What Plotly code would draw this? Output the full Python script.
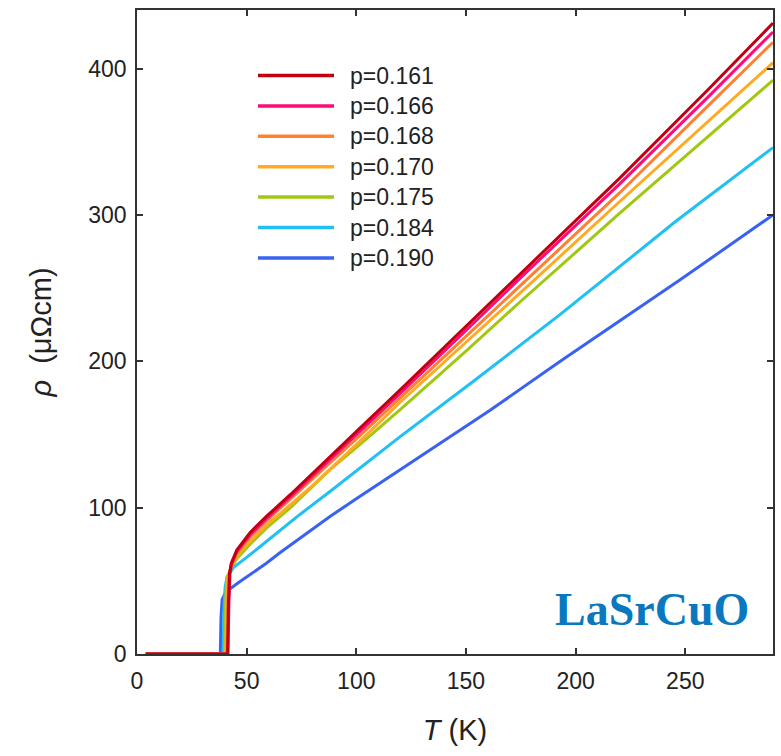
import plotly.graph_objects as go

# ---- data ----
labels = ["p=0.161", "p=0.166", "p=0.168", "p=0.170", "p=0.175", "p=0.184", "p=0.190"]
colors = ["#C00010", "#FF0A78", "#FF8030", "#FFAA20", "#A0C810", "#20C0F5", "#3A62F2"]

T_161 = [4, 41.3, 41.7, 42.2, 43, 45.5, 51.6, 59, 70, 80, 100, 120, 150, 179, 220, 260, 290]
R_161 = [0, 0, 35, 55, 62, 71, 83, 94, 109, 123.5, 152, 180.5, 224, 266, 325, 385, 431]

T_166 = [4, 41.5, 41.9, 42.4, 43, 45.5, 51.6, 59, 70, 80, 100, 120, 150, 179, 220, 260, 290]
R_166 = [0, 0, 35, 55, 61, 70, 81.5, 92.5, 107.5, 121.5, 150, 178, 221, 263, 321, 380, 425]

T_168 = [4, 41.0, 41.4, 41.9, 43, 45.5, 51.6, 59, 70, 80, 100, 120, 150, 179, 220, 260, 290]
R_168 = [0, 0, 35, 54, 60, 69, 80, 91, 106, 119.5, 147, 175, 217, 258, 315, 374, 418]

T_170 = [4, 40.5, 40.9, 41.4, 43, 45.5, 51.6, 59, 70, 80, 100, 120, 150, 175, 220, 260, 290]
R_170 = [0, 0, 35, 52, 60, 67, 77, 88, 102, 115, 143, 172, 213, 247, 309, 363, 404]

T_175 = [4, 40.0, 40.4, 40.9, 43, 45.5, 51.6, 59, 70, 88, 100, 120, 150, 175, 220, 260, 290]
R_175 = [0, 0, 35, 52, 59, 65, 75, 86, 100, 126, 141, 167, 207, 241, 301, 353, 392]

T_184 = [4, 39.3, 39.6, 40.2, 41, 43.9, 50, 60, 74, 88, 100, 120, 154, 175, 193, 246, 290]
R_184 = [0, 0, 30, 46, 52, 59, 66, 78, 95, 111, 125, 148.5, 187, 211, 232, 296, 346]

T_190 = [4, 38.0, 38.3, 38.8, 40, 42, 46, 50, 55, 59, 65, 74, 88, 100, 127, 161, 193, 248, 290]
R_190 = [0, 0, 25, 37, 41, 44, 48.5, 52.5, 57.5, 62, 69, 79, 94, 106, 133, 166.5, 200, 256, 300]

series_T = [T_161, T_166, T_168, T_170, T_175, T_184, T_190]
series_R = [R_161, R_166, R_168, R_170, R_175, R_184, R_190]

x_ticks = [0, 50, 100, 150, 200, 250]
y_ticks = [0, 100, 200, 300, 400]

# ---- figure ----
W, H = 781, 756
ml, mr, mt, mb = 137, 8, 10, 102
pw, ph = W - ml - mr, H - mt - mb

fig = go.Figure()
# draw in reverse so the p=0.161 curve is on top
for i in reversed(range(len(labels))):
    fig.add_trace(go.Scatter(
        x=series_T[i], y=series_R[i], mode="lines", name=labels[i],
        line=dict(color=colors[i], width=3), showlegend=False,
    ))

# manual legend (lines + text), positioned in paper coords
row0, dy = 75.5, 30.4
shapes, annos = [], []
for i, (lab, col) in enumerate(zip(labels, colors)):
    py = row0 + i * dy
    yp = (mt + ph - py) / ph
    shapes.append(dict(type="line", xref="paper", yref="paper",
                       x0=(258 - ml) / pw, x1=(334 - ml) / pw, y0=yp, y1=yp,
                       line=dict(color=col, width=3.5)))
    annos.append(dict(xref="paper", yref="paper", x=(348 - ml) / pw, y=yp,
                      xanchor="left", yanchor="middle", text=lab, showarrow=False,
                      font=dict(family="Liberation Sans, Arial", size=23, color="#222")))

annos.append(dict(xref="paper", yref="paper", x=(751 - ml) / pw, y=(mt + ph - 609) / ph,
                  xanchor="right", yanchor="middle", text="<b>LaSrCuO</b>", showarrow=False,
                  font=dict(family="Liberation Serif, Times New Roman", size=46, color="#0A78BE")))

axis_common = dict(
    showline=True, linecolor="#333", linewidth=1.5, mirror="ticks",
    ticks="inside", ticklen=6, tickwidth=1.5, tickcolor="#333",
    showgrid=False, zeroline=False,
    tickfont=dict(family="Liberation Sans, Arial", size=23, color="#222"),
)

fig.update_layout(
    width=W, height=H,
    margin=dict(l=ml, r=mr, t=mt, b=mb, autoexpand=False),
    paper_bgcolor="white", plot_bgcolor="white",
    shapes=shapes, annotations=annos,
    xaxis=dict(range=[0, 290], tickvals=x_ticks, ticklabelstandoff=6,
               title=dict(text="<i>T</i> (K)", standoff=26,
                          font=dict(family="Liberation Sans, Arial", size=29, color="#222")),
               **axis_common),
    yaxis=dict(range=[0, 440], tickvals=y_ticks, ticklabelstandoff=4,
               title=dict(text="<i>ρ</i>  (μΩcm)", standoff=28,
                          font=dict(family="Liberation Sans, Arial", size=29, color="#222")),
               **axis_common),
    showlegend=False,
)

fig.write_html("out.html")
